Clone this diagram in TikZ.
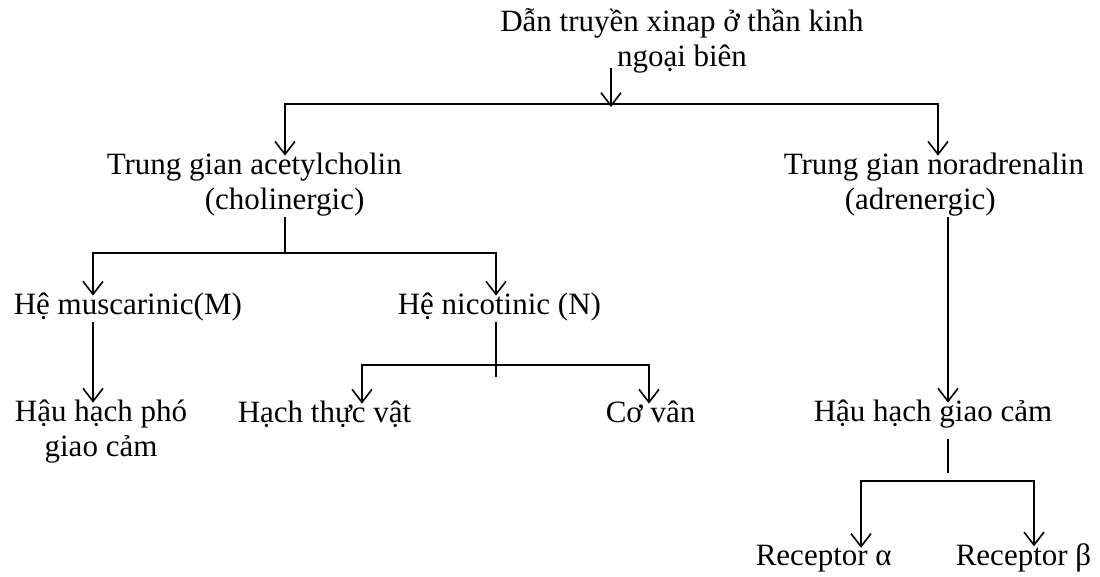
\documentclass[tikz,border=0pt]{standalone}
\usepackage{fontspec}
\setmainfont{Liberation Serif}
\usetikzlibrary{arrows.meta}

\begin{document}
\begin{tikzpicture}
  [
    x=0.5pt, y=-0.5pt,
    line width=0.8pt,
    txt/.style={inner sep=0pt, font=\fontsize{15.5}{17.5}\selectfont},
    arr/.style={-{Straight Barb[length=6.5pt,width=10pt]}, shorten >=-1.5pt},
    arrs/.style={{Straight Barb[length=6.5pt,width=10pt]}-{Straight Barb[length=6.5pt,width=10pt]},
      shorten >=-1.5pt, shorten <=-1.5pt},
  ]

  \useasboundingbox (0,0) rectangle (1100,577);

  % texts
  \node [txt, align=center, anchor=base] (title) at (682,67) {Dẫn truyền xinap ở thần kinh\\ngoại biên};
  \node [txt, align=left, anchor=base west] (chol) at (106,210) {Trung gian acetylcholin\\\hspace*{49pt}(cholinergic)};
  \node [txt, align=left, anchor=base west] (nora) at (783,210) {Trung gian noradrenalin\\\hspace*{30.5pt}(adrenergic)};
  \node [txt, anchor=base west] (musc) at (13,315) {Hệ muscarinic(M)};
  \node [txt, anchor=base west] (nico) at (397,315) {Hệ nicotinic (N)};
  \node [txt, align=center, anchor=base] (hphs) at (101,457) {Hậu hạch phó\\giao cảm};
  \node [txt, anchor=base west] (hach) at (237,423) {Hạch thực vật};
  \node [txt, anchor=base west] (cov) at (605,423) {Cơ vân};
  \node [txt, anchor=base west] (hgc) at (813,422) {Hậu hạch giao cảm};
  \node [txt, anchor=base west] (recA) at (755,566) {Receptor α};
  \node [txt, anchor=base west] (recB) at (955,566) {Receptor β};

  % junctions
  \coordinate (top) at (611,104);
  \coordinate (barL) at (285,104);
  \coordinate (barR) at (938,104);
  \coordinate (chM) at (285,253);
  \coordinate (chL) at (93,253);
  \coordinate (chR) at (496,253);
  \coordinate (nkE) at (496,377);
  \coordinate (nkL) at (362,365);
  \coordinate (nkR) at (649,365);
  \coordinate (adr) at (948,217);
  \coordinate (rJ) at (948,473);
  \coordinate (rL) at (861,481);
  \coordinate (rR) at (1034,481);

  % top level
  \draw [arr] ([yshift=3pt]title.south -| top) -- (top);
  \draw [arrs] (chol.north -| barL) -- (barL) -- (barR) -- (nora.north -| barR);

  % cholinergic
  \draw (chol.south -| chM) -- (chM);
  \draw [arrs] (musc.north -| chL) -- (chL) -- (chR) -- (nico.north -| chR);
  \draw [arr] (musc.south -| chL) -- (hphs.north -| chL);
  \draw (nico.south -| nkE) -- (nkE);
  \draw [arrs] (hach.north -| nkL) -- (nkL) -- (nkR) -- (cov.north -| nkR);

  % adrenergic
  \draw [arr] (nora.south -| adr) -- (hgc.north -| adr);
  \draw ([yshift=-5pt]hgc.south -| rJ) -- (rJ);
  \draw [arrs] (recA.north -| rL) -- (rL) -- (rR) -- (recB.north -| rR);

\end{tikzpicture}
\end{document}
